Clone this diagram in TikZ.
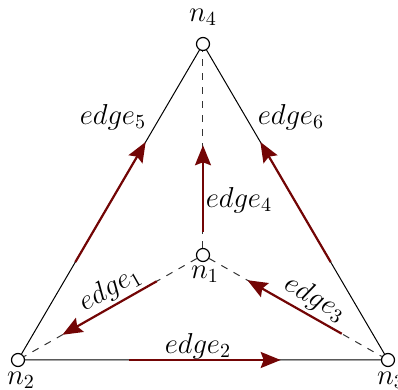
\documentclass[tikz,border=0pt]{standalone}
\usepackage{amsmath,amssymb}
\usepackage{tikz}
\usetikzlibrary{arrows.meta,calc,positioning}
\definecolor{edgered}{RGB}{115,5,5}
\tikzset{
 vertex/.style={circle,draw,fill=white,inner sep=0pt,minimum size=6.5pt,line width=0.6pt},
 flow/.style={->,edgered,line width=1.1pt},
 hidden/.style={dash pattern=on 3.5pt off 3.5pt,black!80,line width=0.5pt}
}

\begin{document}
\begin{tikzpicture}[x=0.5pt,y=-0.5pt,>={Stealth[length=10pt,width=8pt,inset=1.5pt]}, every node/.style={font=\fontsize{14.5}{16}\selectfont}]
 \useasboundingbox (0,0) rectangle (398,390);
 \node[vertex] (n1) at (203,255) {};
 \node[vertex] (n2) at (18,360) {};
 \node[vertex] (n3) at (388,360) {};
 \node[vertex] (n4) at (203,44) {};
 \node (t1) at (205,274) {$n_1$};
 \node (t2) at (21,380) {$n_2$};
 \node (t3) at (391,380) {$n_3$};
 \node (t4) at (203,17) {$n_4$};
 \draw[line width=0.5pt] (n2) -- (n4) -- (n3) -- (n2);
 \draw[hidden] (n1) -- (n2);
 \draw[hidden] (n1) -- (n3);
 \draw[hidden] (n1) -- (n4);
 \draw[flow] ($(n1)!0.25!(n2)$) -- ($(n1)!0.76!(n2)$);
 \draw[flow] ($(n2)!0.30!(n3)$) -- ($(n2)!0.71!(n3)$);
 \draw[flow] ($(n3)!0.25!(n1)$) -- ($(n3)!0.76!(n1)$);
 \draw[flow] ($(n1)!0.11!(n4)$) -- ($(n1)!0.52!(n4)$);
 \draw[flow] ($(n2)!0.31!(n4)$) -- ($(n2)!0.69!(n4)$);
 \draw[flow] ($(n3)!0.31!(n4)$) -- ($(n3)!0.69!(n4)$);
 \node[rotate=29.6] (l1) at (110,289) {$edge_1$};
 \node (l2) at (198,346) {$edge_2$};
 \node[rotate=-29.6] (l3) at (315,299) {$edge_3$};
 \node (l4) at (239,200) {$edge_4$};
 \node (l5) at (113,117) {$edge_5$};
 \node (l6) at (291,117) {$edge_6$};
\end{tikzpicture}
\end{document}
